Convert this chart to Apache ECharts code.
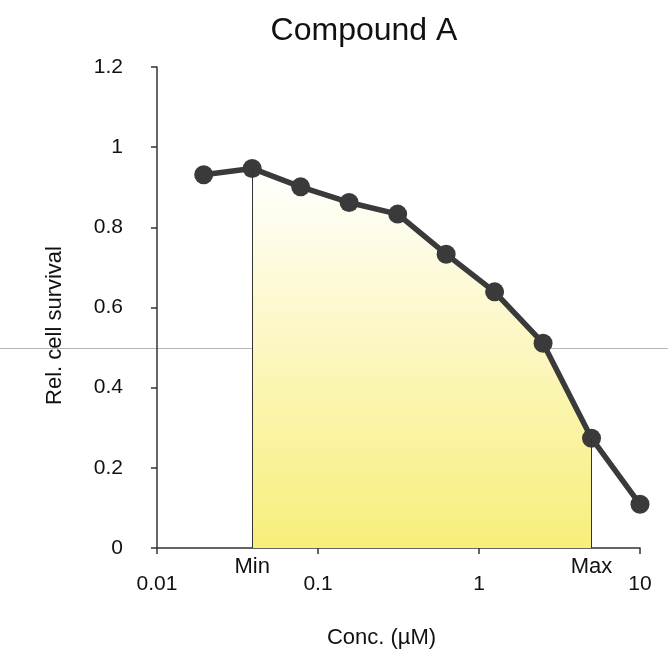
<!DOCTYPE html>
<html>
<head>
<meta charset="utf-8">
<script src="https://cdn.jsdelivr.net/npm/echarts@6/dist/echarts.min.js"></script>
<style>
html,body{margin:0;padding:0;background:#fff;}
#c{width:668px;height:655px;}
</style>
</head>
<body>
<div id="c"></div>
<script>
// Data
var conc = [0.0195, 0.039, 0.078, 0.156, 0.3125, 0.625, 1.25, 2.5, 5, 10];
var survival = [0.931, 0.947, 0.901, 0.862, 0.833, 0.733, 0.639, 0.511, 0.274, 0.109];
var minIndex = 1;
var maxIndex = 8;
var rangeLabels = ['Min', 'Max'];
var xTickLabels = ['0.01', '0.1', '1', '10'];
var yTickValues = [0, 0.2, 0.4, 0.6, 0.8, 1, 1.2];

var font = 'Liberation Sans, Arial, Helvetica, sans-serif';
var lineData = conc.map(function (c, i) { return [c, survival[i]]; });
var areaData = lineData.slice(minIndex, maxIndex + 1);

var chart = echarts.init(document.getElementById('c'), null, {renderer: 'canvas'});
chart.setOption({
  backgroundColor: '#fff',
  animation: false,
  title: {
    text: 'Compound A',
    left: 359, top: 10, textAlign: 'center',
    textStyle: {fontFamily: font, fontSize: 32, fontWeight: 'normal', color: '#111'}
  },
  graphic: [{
    type: 'line', z: -10,
    shape: {x1: 0, y1: 348.5, x2: 668, y2: 348.5},
    style: {stroke: '#b5b5b5', lineWidth: 1}
  }],
  grid: {left: 157, right: 28, top: 67, bottom: 107},
  xAxis: {
    type: 'log', logBase: 10, min: 0.01, max: 10,
    name: 'Conc. (µM)', nameLocation: 'middle', nameGap: 79,
    nameTextStyle: {fontFamily: font, fontSize: 22, color: '#111', padding: [0, 0, 0, -34]},
    axisLine: {lineStyle: {color: '#333', width: 1.5}},
    axisTick: {show: true, length: 6, lineStyle: {color: '#333', width: 1.5}},
    minorTick: {show: false},
    splitLine: {show: false},
    axisLabel: {
      fontFamily: font, fontSize: 21, color: '#111', margin: 26,
      formatter: function (v) {
        var k = Math.round(Math.log10(v)) + 2;
        return xTickLabels[k] !== undefined ? xTickLabels[k] : '';
      }
    }
  },
  yAxis: {
    type: 'value', min: 0, max: 1.2, interval: 0.2,
    name: 'Rel. cell survival', nameLocation: 'middle', nameGap: 91,
    nameTextStyle: {fontFamily: font, fontSize: 22, color: '#111', padding: [0, 0, 0, -36]},
    axisLine: {show: true, lineStyle: {color: '#333', width: 1.5}},
    axisTick: {show: true, length: 6, lineStyle: {color: '#333', width: 1.5}},
    splitLine: {show: false},
    axisLabel: {
      fontFamily: font, fontSize: 21, color: '#111', margin: 34,
      formatter: function (v) {
        for (var i = 0; i < yTickValues.length; i++) {
          if (Math.abs(yTickValues[i] - v) < 1e-6) return String(yTickValues[i]);
        }
        return '';
      }
    }
  },
  series: [
    {
      type: 'line', data: areaData, symbol: 'none', silent: true, z: 1,
      lineStyle: {width: 0, opacity: 0},
      areaStyle: {
        opacity: 1,
        color: new echarts.graphic.LinearGradient(0, 0, 0, 1, [
          {offset: 0, color: '#ffffff'},
          {offset: 1, color: '#f8ee7a'}
        ])
      },
      markLine: {
        silent: true, symbol: ['none', 'none'],
        lineStyle: {color: '#333', width: 1, type: 'solid'},
        label: {
          show: true, position: 'start', distance: 8,
          fontFamily: font, fontSize: 22, color: '#111',
          formatter: function (p) { return p.name; }
        },
        data: [
          [{name: rangeLabels[0], coord: [conc[minIndex], 0]}, {coord: [conc[minIndex], survival[minIndex]]}],
          [{name: rangeLabels[1], coord: [conc[maxIndex], 0]}, {coord: [conc[maxIndex], survival[maxIndex]]}]
        ]
      }
    },
    {
      type: 'line', data: lineData, z: 3,
      symbol: 'circle', symbolSize: 19,
      itemStyle: {color: '#3a3a3a'},
      lineStyle: {color: '#3a3a3a', width: 5.5}
    }
  ]
});
</script>
</body>
</html>
